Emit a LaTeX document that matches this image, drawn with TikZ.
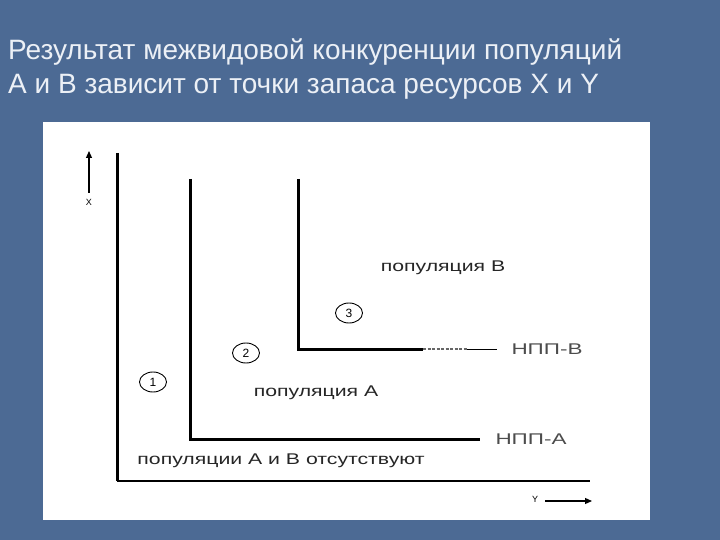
\documentclass[tikz,border=0pt]{standalone}
\usepackage{fontspec}
\usepackage{graphicx}
\setmainfont{Liberation Sans}
\usetikzlibrary{arrows.meta,shapes.geometric}
\definecolor{slidebg}{RGB}{76,106,148}
\definecolor{titlefg}{RGB}{236,240,246}
\newcommand{\wide}[2][1.37]{\scalebox{#1}[1]{#2}}
\tikzset{
  thickline/.style={line width=3pt,black},
  lbl/.style={font=\fontsize{15.5}{18}\selectfont,inner sep=0pt,text=black!85},
  num/.style={draw,ellipse,line width=0.9pt,minimum width=27pt,minimum height=20pt,inner sep=0pt,font=\fontsize{12}{14}\selectfont},
  titletxt/.style={font=\fontsize{28}{32}\selectfont,text=titlefg,anchor=base west,inner sep=0pt},
  small/.style={font=\fontsize{9}{10}\selectfont,inner sep=0pt}
}
\begin{document}
\begin{tikzpicture}[x=1pt,y=-1pt]
\fill[slidebg] (0,0) rectangle (720,540);
\useasboundingbox (0,0) rectangle (720,540);
\fill[white] (43,122) rectangle (650,520);
% title
\node[titletxt] (t1) at (8,60) {Результат межвидовой конкуренции популяций};
\node[titletxt] (t2) at (8,94) {А и В зависит от точки запаса ресурсов X и Y};
% axes
\coordinate (o) at (117,481);
\coordinate (ytop) at (117,153);
\coordinate (xend) at (590,481);
\draw[thickline] (ytop) -- (o);
\draw[line width=1.8pt] (o) -- (xend);
% axis arrows
\coordinate (xa0) at (89,193);
\coordinate (xa1) at (89,151);
\draw[line width=1.2pt,-{Triangle[length=7pt,width=6pt]}] (xa0) -- (xa1);
\node[small] (xl) at (89,202) {X};
\coordinate (ya0) at (545,501);
\coordinate (ya1) at (592,501);
\draw[line width=1.2pt,-{Triangle[length=7pt,width=6pt]}] (ya0) -- (ya1);
\node[small] (yl) at (535,499) {Y};
% NPP-A
\coordinate (a0) at (190,179);
\coordinate (a1) at (190,439);
\coordinate (a2) at (480,439);
\draw[thickline] (a0) -- (a1) -- (a2);
\node[lbl,text=black!70] (na) at (531,439) {\wide[1.45]{НПП-А}};
% NPP-B
\coordinate (b0) at (298,179);
\coordinate (b1) at (298,349);
\coordinate (b2) at (423,349);
\coordinate (b3) at (497,349);
\draw[thickline] (b0) -- (b1) -- (b2);
\draw[line width=1.4pt,black!60,dash pattern=on 3pt off 1.5pt] (b2) -- (467,349);
\draw[line width=1pt] (467,349) -- (b3);
\node[lbl,text=black!70] (nb) at (547,349) {\wide[1.45]{НПП-В}};
% labels
\node[lbl] (pb) at (443,268) {\wide{популяция В}};
\node[lbl] (pa) at (316,393) {\wide{популяция А}};
\node[lbl] (p0) at (281,461) {\wide{популяции А и В отсутствуют}};
% numbered circles
\node[num] (c1) at (153,382) {1};
\node[num] (c2) at (246,353) {2};
\node[num] (c3) at (349,313) {3};
\end{tikzpicture}
\end{document}
